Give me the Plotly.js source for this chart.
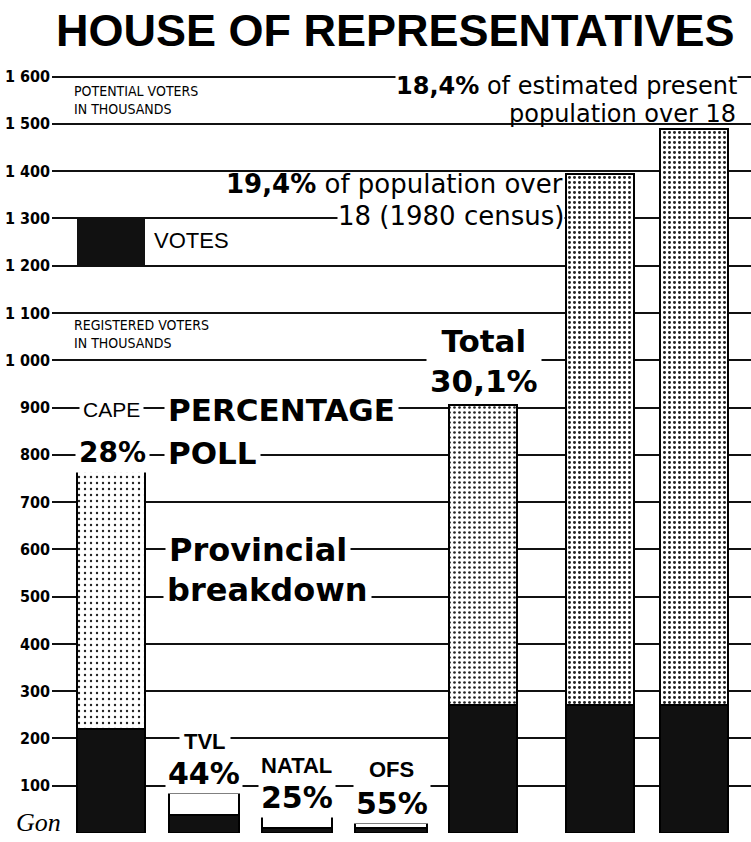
<!DOCTYPE html>
<html><head><meta charset="utf-8">
<script src="https://cdn.plot.ly/plotly-3.0.1.min.js"></script>
<style>html,body{margin:0;padding:0;background:#fff}#chart{width:751px;height:842px}</style>
</head><body><div id="chart"></div>
<script>
// ---- data (thousands) ----
const categories = ['CAPE', 'TVL', 'NATAL', 'OFS', 'Total', 'Population over 18 (1980 census)', 'Estimated present population over 18'];
const registered = [770, 85, 40, 21, 905, 1395, 1490];
const votes = [220, 38, 10, 11, 270, 270, 270];
const pollPercent = ['28%', '44%', '25%', '55%', '30,1%', '19,4%', '18,4%'];
const tickValues = [100, 200, 300, 400, 500, 600, 700, 800, 900, 1000, 1100, 1200, 1300, 1400, 1500, 1600];
const tickLabels = ['100', '200', '300', '400', '500', '600', '700', '800', '900', '1 000', '1 100', '1 200', '1 300', '1 400', '1 500', '1 600'];

// ---- layout constants (positions / sizes, not data) ----
const W = 751, H = 842, ML = 52, MB = 9, PW = W - ML, PH = H - MB;
const barCenters = [59, 152, 245, 339, 431, 548, 642];
const barWidths = [68, 70, 70, 72, 68, 68, 68];
const yMax = 1762;
const rest = registered.map((r, i) => r - votes[i]);

const px = x => (x - ML) / PW;
const py = y => (PH - y) / PH;

const BOLD = 'DejaVu Sans';
const REG = 'DejaVu Sans';
const ARIAL = 'Liberation Sans, Arial, sans-serif';
const NARROW = 'DejaVu Sans Condensed, Liberation Sans Narrow, sans-serif';

const traces = [
  {
    type: 'bar', name: 'VOTES', x: barCenters, y: votes, width: barWidths,
    text: categories, textposition: 'none', hoverinfo: 'text+y',
    marker: {color: '#111', line: {color: '#000', width: 2}}
  },
  {
    type: 'bar', name: 'Registered / potential voters', x: barCenters, y: rest, width: barWidths,
    text: categories, textposition: 'none', hoverinfo: 'text',
    marker: {
      color: '#fff',
      line: {color: '#000', width: 2},
      pattern: {
        shape: ['.', '', '', '', '.', '.', '.'],
        size: [6, 6, 6, 6, 5, 5, 5],
        solidity: [0.12, 0.1, 0.1, 0.1, 0.22, 0.28, 0.28],
        fgcolor: '#222', bgcolor: '#fff', fillmode: 'replace'
      }
    }
  }
];

function ann(text, x, y, opts) {
  const o = Object.assign({size: 28, family: REG, color: '#000', xanchor: 'center', bg: null, weight: 'normal'}, opts || {});
  const a = {
    text: text, xref: 'paper', yref: 'paper', x: px(x), y: py(y),
    xanchor: o.xanchor, yanchor: 'middle', showarrow: false, align: o.align || 'left',
    font: {family: o.family, size: o.size, color: o.color, weight: o.weight, style: o.style || 'normal'},
    borderpad: o.pad === undefined ? 1 : o.pad
  };
  if (o.bg) a.bgcolor = o.bg;
  return a;
}

const annotations = [
  ann('HOUSE OF REPRESENTATIVES', 395, 31, {family: ARIAL, size: 45, weight: 'bold'}),
  ann('POTENTIAL VOTERS<br>IN THOUSANDS', 72, 100, {family: NARROW, size: 14, xanchor: 'left'}),
  ann('<b>' + pollPercent[6] + '</b> of estimated present', 738, 86, {size: 24, xanchor: 'right', bg: '#fff', pad: 0}),
  ann('population over 18', 738, 114, {size: 24, xanchor: 'right'}),
  ann('<b>' + pollPercent[5] + '</b> of population over', 565, 184, {size: 26, xanchor: 'right'}),
  ann('18 (1980 census)', 565, 216, {size: 26, xanchor: 'right', bg: '#fff', pad: 0}),
  ann('VOTES', 152, 241, {family: ARIAL, size: 22, xanchor: 'left'}),
  ann('REGISTERED VOTERS<br>IN THOUSANDS', 72, 334, {family: NARROW, size: 14, xanchor: 'left'}),
  ann('<b>Total</b><br><b>' + pollPercent[4] + '</b>', 484, 361, {family: BOLD, size: 31, align: 'center', bg: '#fff', pad: 3}),
  ann('CAPE', 111, 409, {family: ARIAL, size: 21, bg: '#fff', pad: 3}),
  ann('<b>' + pollPercent[0] + '</b>', 112, 452, {family: BOLD, size: 28, bg: '#fff', pad: 3}),
  ann('<b>PERCENTAGE</b>', 164, 410, {family: BOLD, size: 31, xanchor: 'left', bg: '#fff', pad: 3}),
  ann('<b>POLL</b>', 164, 453, {family: BOLD, size: 31, xanchor: 'left', bg: '#fff', pad: 3}),
  ann('<b>Provincial</b>', 165, 550, {family: BOLD, size: 32, xanchor: 'left', bg: '#fff', pad: 3}),
  ann('<b>breakdown</b>', 163, 590, {family: BOLD, size: 32, xanchor: 'left', bg: '#fff', pad: 3}),
  ann('<b>TVL</b>', 205, 741, {family: ARIAL, size: 22, bg: '#fff', pad: 4}),
  ann('<b>' + pollPercent[1] + '</b>', 204, 773, {family: BOLD, size: 30, bg: '#fff', pad: 2}),
  ann('<b>NATAL</b>', 296, 765, {family: ARIAL, size: 22}),
  ann('<b>' + pollPercent[2] + '</b>', 297, 797, {family: BOLD, size: 30, bg: '#fff', pad: 2}),
  ann('<b>OFS</b>', 391, 769, {family: ARIAL, size: 22}),
  ann('<b>' + pollPercent[3] + '</b>', 392, 803, {family: BOLD, size: 30, bg: '#fff', pad: 2}),
  ann('Gon', 38, 822, {family: 'Liberation Serif, serif', size: 26, style: 'italic'})
];

const layout = {
  width: W, height: H,
  margin: {l: ML, r: 0, t: 0, b: MB, pad: 0},
  paper_bgcolor: '#fff', plot_bgcolor: '#fff',
  barmode: 'stack', showlegend: false,
  xaxis: {range: [0, PW], showgrid: false, zeroline: false, showticklabels: false, ticks: '', fixedrange: true},
  yaxis: {
    range: [0, yMax], tickvals: tickValues, ticktext: tickLabels,
    showgrid: true, gridcolor: '#111', gridwidth: 2, zeroline: false, showline: false,
    ticks: '', ticklabelstandoff: 1,
    tickfont: {family: NARROW, size: 16, color: '#000', weight: 'bold'}
  },
  shapes: [
    {type: 'rect', xref: 'x', yref: 'y', x0: 25, x1: 93, y0: 1200, y1: 1300, fillcolor: '#111', line: {width: 0}, layer: 'above'}
  ],
  annotations: annotations
};

Plotly.newPlot('chart', traces, layout, {staticPlot: true, displayModeBar: false});
</script>
</body></html>
